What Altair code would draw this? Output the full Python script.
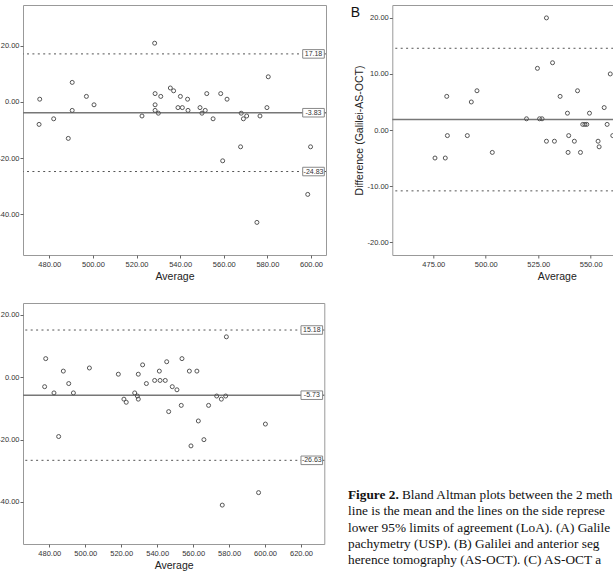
import altair as alt
import pandas as pd

# ---------------- data ----------------
A_avg = [475.3, 475.6, 482.0, 488.7, 490.5, 490.5, 497.0, 500.5, 522.5, 528.3,
         528.5, 528.5, 528.5, 530.0, 531.1, 535.5, 537.0, 539.0, 540.1, 541.0,
         543.4, 543.6, 549.1, 550.0, 551.5, 552.2, 555.1, 558.6, 559.5, 561.5,
         567.7, 568.0, 569.0, 570.5, 575.2, 576.6, 579.8, 580.4, 598.5, 599.8]
A_diff = [-8, 1, -6, -13, 7, -3, 2, -1, -5, 21,
          3, -1, -3, -4, 2, 5, 4, -2, 2, -2,
          1, -3, -2, -4, -3, 3, -6, 3, -21, 1,
          -16, -4, -6, -5, -43, -5, -2, 9, -33, -16]
A_lines = [17.18, -3.83, -24.83]
A_labels = ["17.18", "-3.83", "-24.83"]

B_avg = [475.8, 480.7, 481.4, 481.7, 491.2, 493.1, 495.8, 503.1, 519.4, 524.6,
         525.6, 526.8, 528.9, 528.9, 531.8, 532.7, 535.4, 538.9, 539.5, 539.2,
         542.2, 543.7, 545.1, 546.2, 547.2, 548.1, 549.4, 553.5, 554.0, 556.4,
         557.8, 559.3, 560.5]
B_diff = [-5, -5, 6, -1, -1, 5, 7, -4, 2, 11,
          2, 2, 20, -2, 12, -2, 6, 3, -1, -4,
          -2, 7, -4, 1, 1, 1, 3, -2, -3, 4,
          1, 10, -1]
B_lines = [14.58, 1.86, -10.86]
B_labels = ["14.58", "1.86", "-10.86"]

C_avg = [477.4, 478.0, 482.6, 485.2, 487.8, 490.8, 493.4, 502.3, 518.4, 521.5,
         522.8, 527.5, 529.0, 529.5, 529.5, 531.9, 534.0, 538.6, 541.2, 541.6,
         544.5, 545.3, 546.4, 548.4, 551.0, 553.4, 553.8, 557.9, 558.8, 562.1,
         562.9, 566.0, 568.6, 573.1, 575.7, 576.2, 578.1, 578.5, 596.4, 600.2]
C_diff = [-3, 6, -5, -19, 2, -2, -5, 3, 1, -7,
          -8, -5, -6, 1, -7, 4, -2, -1, 2, -1,
          -1, 5, -11, -3, -4, -9, 6, 2, -22, 2,
          -14, -20, -9, -6, -7, -41, -6, 13, -37, -15]
C_lines = [15.18, -5.73, -26.63]
C_labels = ["15.18", "-5.73", "-26.63"]

A_xticks = [480, 500, 520, 540, 560, 580, 600]
B_xticks = [475, 500, 525, 550, 575, 600]
C_xticks = [480, 500, 520, 540, 560, 580, 600, 620]
A_yticks = [-40, -20, 0, 20]
B_yticks = [-20, -10, 0, 10, 20]
C_yticks = [-40, -20, 0, 20]

panel_letter = "B"
caption_bold = "Figure 2."
caption_first = "Bland Altman plots between the 2 meth"
caption_lines = [
    "line is the mean and the lines on the side represe",
    "lower 95% limits of agreement (LoA). (A) Galile",
    "pachymetry (USP). (B) Galilei and anterior seg",
    "herence tomography (AS-OCT). (C) AS-OCT a",
]

# ---------------- style ----------------
TICK_FONT = "Liberation Sans"
TITLE_FONT = "Liberation Sans"
CAP_FONT = "Liberation Serif"
CAP_SIZE = 13.3
FMT = "replace(format(datum.value, '.2f'), '\u2212', '-')"
BOX = "M-2.4,-0.95L2.4,-0.95L2.4,0.95L-2.4,0.95Z"


def panel(avg, diff, lines, labels, xdom, ydom, xticks, yticks, w, h,
          ytitle=None, boxes=True, letter=None):
    pts = pd.DataFrame({"avg": avg, "diff": diff})
    mean_df = pd.DataFrame({"diff": [lines[1]], "label": [labels[1]]})
    loa_df = pd.DataFrame({"diff": [lines[0], lines[2]], "label": [labels[0], labels[2]]})
    all_df = pd.DataFrame({"diff": lines, "label": labels})

    yenc = alt.Y("diff:Q",
                 scale=alt.Scale(domain=ydom, nice=False, zero=False),
                 axis=alt.Axis(values=yticks, labelExpr=FMT, title=ytitle))
    xenc = alt.X("avg:Q",
                 scale=alt.Scale(domain=xdom, nice=False, zero=False),
                 axis=alt.Axis(values=xticks, labelExpr=FMT, title="Average"))

    loa = alt.Chart(loa_df).mark_rule(color="#555", strokeWidth=1,
                                      strokeDash=[2, 3.4]).encode(y=yenc)
    mean = alt.Chart(mean_df).mark_rule(color="#777", strokeWidth=1.6).encode(y=yenc)
    points = alt.Chart(pts).mark_point(shape="circle", filled=False, size=16,
                                       color="#555", strokeWidth=1,
                                       opacity=1).encode(x=xenc, y=yenc)
    layers = [loa, mean, points]
    if boxes:
        box = alt.Chart(all_df).mark_point(shape=BOX, filled=True, fill="white",
                                           stroke="#888", strokeWidth=1,
                                           size=81, opacity=1).encode(
            x=alt.value(w - 12.5), y=yenc)
        txt = alt.Chart(all_df).mark_text(font=TICK_FONT, fontSize=7,
                                          color="#333", baseline="middle").encode(
            x=alt.value(w - 12.5), y=yenc, text="label:N")
        layers += [box, txt]
    if letter:
        lt = alt.Chart(pd.DataFrame({"t": [letter]})).mark_text(
            font=TITLE_FONT, fontSize=14, color="#111", align="center",
            baseline="middle").encode(x=alt.value(-37), y=alt.value(8.3), text="t:N")
        layers.append(lt)
    return alt.layer(*layers).properties(width=w, height=h)


pA = panel(A_avg, A_diff, A_lines, A_labels, [467.93, 606.88], [-54.64, 34.64],
           A_xticks, A_yticks, 303, 250)
pB = panel(B_avg, B_diff, B_lines, B_labels, [455.46, 612.2], [-22.3, 22.3],
           B_xticks, B_yticks, 329, 250, ytitle="Difference (Galilei-AS-OCT)",
           boxes=False, letter=panel_letter)
pC = panel(C_avg, C_diff, C_lines, C_labels, [465.37, 632.96], [-53.48, 23.85],
           C_xticks, C_yticks, 301.3, 241)

# caption panel
first_df = pd.DataFrame({"line": [0], "bold": [caption_bold], "rest": [caption_first]})
rest_df = pd.DataFrame({"line": list(range(1, 1 + len(caption_lines))), "rest": caption_lines})
ycap = alt.Y("line:Q", scale=alt.Scale(domain=[0, 4], range=[192, 257]), axis=None)
cap_bold = alt.Chart(first_df).mark_text(font=CAP_FONT, fontSize=CAP_SIZE,
                                         fontWeight="bold", align="left",
                                         baseline="middle", color="#111").encode(
    x=alt.value(-44.3), y=ycap, text="bold:N")
cap_first = alt.Chart(first_df).mark_text(font=CAP_FONT, fontSize=CAP_SIZE,
                                          align="left", baseline="middle",
                                          color="#111", dx=54).encode(
    x=alt.value(-44.3), y=ycap, text="rest:N")
cap_rest = alt.Chart(rest_df).mark_text(font=CAP_FONT, fontSize=CAP_SIZE,
                                        align="left", baseline="middle",
                                        color="#111").encode(
    x=alt.value(-44.3), y=ycap, text="rest:N")
pT = alt.layer(cap_bold, cap_first, cap_rest).properties(
    width=221, height=241, view=alt.ViewBackground(stroke="transparent"))

chart = alt.concat(pA, pB, pC, pT, columns=2,
                   spacing={"row": 48, "column": 66.3},
                   bounds="flush").properties(
    autosize=alt.AutoSizeParams(type="none"),
    padding={"left": 23, "top": 5, "right": 590, "bottom": 567},
    background="white",
).configure_view(
    stroke="#999", strokeWidth=1
).configure_axis(
    grid=False, domain=False, tickColor="#666", tickSize=3,
    labelFont=TICK_FONT, labelFontSize=7.5, labelColor="#333",
    labelOverlap=False, labelFlush=False,
    titleFont=TITLE_FONT, titleFontSize=10.5, titleFontWeight="normal",
    titleColor="#222", titlePadding=4,
).configure_axisX(
    labelPadding=2
).configure_axisY(
    labelPadding=1, titlePadding=3
)

chart.save("out.html", embed_options={"renderer": "svg", "actions": False})
